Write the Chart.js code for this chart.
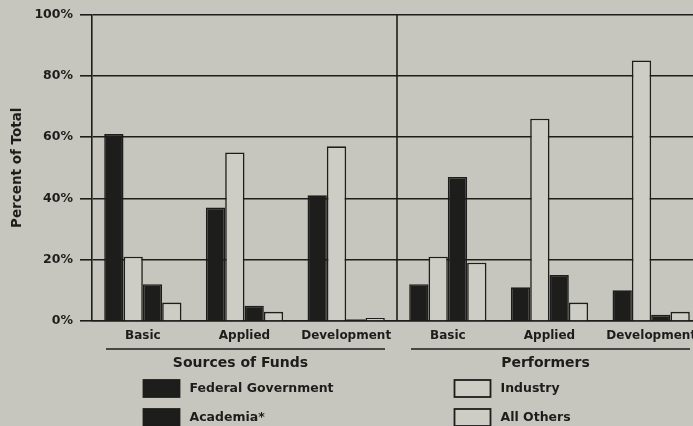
<!DOCTYPE html>
<html>
<head>
<meta charset="utf-8">
<title>R&D by Sources of Funds and Performers</title>
<script src="https://cdn.jsdelivr.net/npm/chart.js@4.4.1/dist/chart.umd.min.js"></script>
<style>
  html, body { margin: 0; padding: 0; background: #c6c6bf; overflow: hidden; width: 693px; height: 426px; }
  #wrap { width: 712px; height: 426px; }
  canvas { display: block; }
</style>
</head>
<body>
<div id="wrap"><canvas id="chart" width="712" height="426"></canvas></div>
<script>
// Share of total R&D (percent), by character of work, split into
// who pays for it (first three groups) and who carries it out (last three).
const categories = ['Basic', 'Applied', 'Development', 'Basic', 'Applied', 'Development'];
const groupTitles = ['Sources of Funds', 'Performers'];
const seriesNames = ['Federal Government', 'Industry', 'Academia*', 'All Others'];

const federalGovernment = [61, 37, 41, 12, 11, 10];
const industry          = [21, 55, 57, 21, 66, 85];
const academia          = [12, 5, 0.6, 47, 15, 2];
const allOthers         = [6, 3, 1, 19, 6, 3];

const yTicks = [0, 20, 40, 60, 80, 100];

const INK = '#1d1d1b';
const PAPER = '#c6c6bf';
const LIGHT = '#cdccc5';
const FONT = '"DejaVu Sans", "Liberation Sans", sans-serif';

// Paper background, divider between the two halves, category and group captions, legend
const decorations = {
  id: 'decorations',
  beforeDraw(chart) {
    const ctx = chart.ctx;
    ctx.save();
    ctx.fillStyle = PAPER;
    ctx.fillRect(0, 0, chart.width, chart.height);
    ctx.restore();
  },
  afterDraw(chart) {
    const ctx = chart.ctx;
    const x = chart.scales.x;
    const area = chart.chartArea;
    const step = x.getPixelForTick(1) - x.getPixelForTick(0);
    const divider = (x.getPixelForTick(2) + x.getPixelForTick(3)) / 2;

    ctx.save();
    ctx.strokeStyle = INK;
    ctx.lineWidth = 1.6;
    // vertical divider and right frame
    ctx.beginPath();
    ctx.moveTo(divider, area.top);
    ctx.lineTo(divider, area.bottom);
    ctx.moveTo(area.right, area.top);
    ctx.lineTo(area.right, area.bottom);
    ctx.stroke();

    // category labels under each bar group
    ctx.fillStyle = INK;
    ctx.textAlign = 'center';
    ctx.textBaseline = 'middle';
    ctx.font = 'bold 12px ' + FONT;
    chart.data.labels.forEach((lab, i) => {
      ctx.fillText(lab, x.getPixelForTick(i), area.bottom + 15);
    });

    // group underlines and captions
    const spans = [
      [x.getPixelForTick(0) - step / 2, divider],
      [divider, x.getPixelForTick(5) + step / 2]
    ];
    const lineY = area.bottom + 28;
    ctx.font = 'bold 14px ' + FONT;
    spans.forEach(([a, b], i) => {
      ctx.beginPath();
      ctx.moveTo(a + 14, lineY);
      ctx.lineTo(b - 12, lineY);
      ctx.stroke();
      ctx.fillText(groupTitles[i], (a + b) / 2 - 4, lineY + 14);
    });

    // two-column legend
    const colX = [spans[0][0] + (spans[0][1] - spans[0][0]) / 2 - 101,
                  spans[1][0] + (spans[1][1] - spans[1][0]) / 2 - 95];
    const rowY = [area.bottom + 59, area.bottom + 88];
    const boxW = 36, boxH = 17;
    ctx.textAlign = 'left';
    ctx.font = 'bold 12.5px ' + FONT;
    chart.data.datasets.forEach((ds, i) => {
      const cx = colX[i % 2];
      const cy = rowY[Math.floor(i / 2)];
      ctx.fillStyle = ds.backgroundColor;
      ctx.fillRect(cx, cy, boxW, boxH);
      ctx.lineWidth = 1.8;
      ctx.strokeStyle = INK;
      ctx.strokeRect(cx, cy, boxW, boxH);
      ctx.fillStyle = INK;
      ctx.fillText(ds.label, cx + boxW + 10, cy + boxH / 2 + 0.5);
    });
    ctx.restore();
  }
};

const seriesValues = [federalGovernment, industry, academia, allOthers];
const fills = [INK, LIGHT, INK, LIGHT];

new Chart(document.getElementById('chart'), {
  type: 'bar',
  data: {
    labels: categories,
    datasets: seriesNames.map((name, i) => ({
      label: name,
      data: seriesValues[i],
      backgroundColor: fills[i],
      borderColor: INK,
      borderWidth: { top: 1.6, left: 1.6, right: 1.6, bottom: 0 },
      borderSkipped: 'bottom',
      categoryPercentage: 0.76,
      barPercentage: 1.0
    }))
  },
  options: {
    responsive: false,
    animation: false,
    layout: { padding: { top: 14, right: 10, bottom: 85, left: 0 } },
    plugins: {
      legend: { display: false },
      tooltip: { enabled: false }
    },
    scales: {
      x: {
        afterFit(scale) { scale.height = 20; },
        grid: { display: false, drawTicks: false },
        border: { display: true, color: INK, width: 1.6 },
        ticks: { display: false, autoSkip: false }
      },
      y: {
        min: 0,
        max: 100,
        afterFit(scale) { scale.width = 92; },
        afterBuildTicks(scale) { scale.ticks = yTicks.map(v => ({ value: v })); },
        grid: { color: INK, lineWidth: 1.6, tickLength: 12, drawTicks: true },
        border: { display: true, color: INK, width: 1.6 },
        ticks: {
          color: INK,
          padding: 7,
          font: { family: FONT, weight: 'bold', size: 12.5 },
          callback: v => v + '%'
        },
        title: {
          display: true,
          text: 'Percent of Total',
          color: INK,
          padding: { top: 9, bottom: 0 },
          font: { family: FONT, weight: 'bold', size: 13.5 }
        }
      }
    }
  },
  plugins: [decorations]
});
</script>
</body>
</html>
